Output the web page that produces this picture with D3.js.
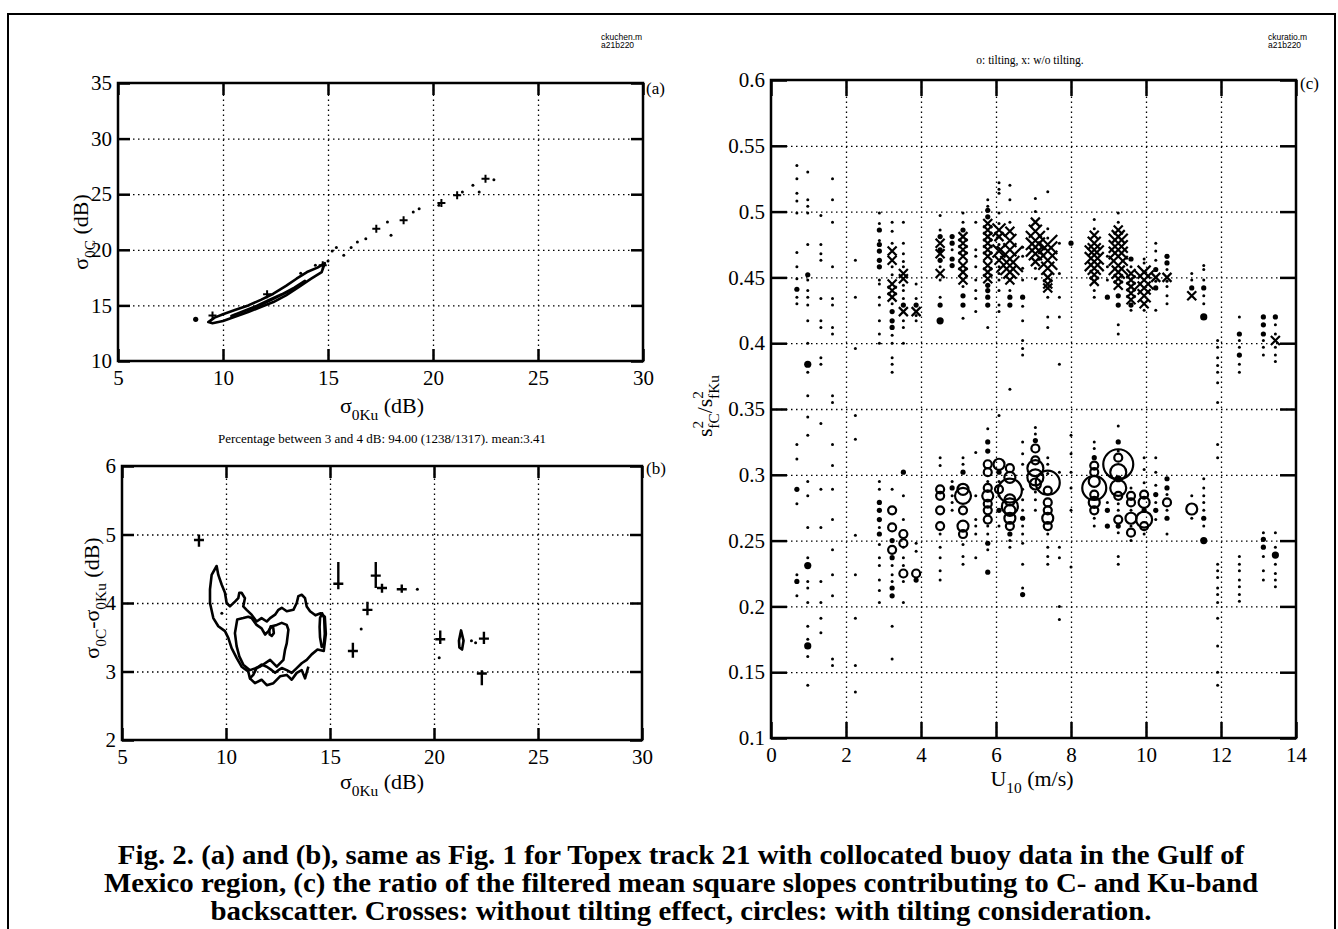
<!DOCTYPE html>
<html>
<head>
<meta charset="utf-8">
<script src="https://cdn.jsdelivr.net/npm/d3@7"></script>
<style>
  body { margin: 0; background: #fff; }
  svg { display: block; }
  .tick text { font-family: 'Liberation Serif', 'Times New Roman', serif; font-size: 21px; fill: #000; }
  .grid line { stroke: #000; stroke-width: 1.3; stroke-dasharray: 1.5, 3.5; }
  .grid path, .ax path { display: none; }
  .ax line { stroke: #000; stroke-width: 2.5; }
</style>
</head>
<body>
<svg id="chart" width="1338" height="929"></svg>
<script>
// TICKS
const xTicksAB = [5, 10, 15, 20, 25, 30];
const yTicksA = [10, 15, 20, 25, 30, 35];
const yTicksB = [2, 3, 4, 5, 6];
const xTicksC = [0, 2, 4, 6, 8, 10, 12, 14];
const yTicksC = [0.1, 0.15, 0.2, 0.25, 0.3, 0.35, 0.4, 0.45, 0.5, 0.55, 0.6];

// PANEL (a): sigma0C vs sigma0Ku, contour loops + scattered samples
const aOuter = [[9.3,13.5],[9.6,13.9],[10.0,14.2],[10.6,14.6],[11.2,15.0],[11.8,15.5],[12.4,16.05],[13.0,16.75],[13.5,17.4],[14.0,18.0],[14.5,18.4],[14.85,18.8],
  [14.7,18.0],[14.2,17.4],[13.6,16.65],[13.0,15.9],[12.4,15.3],[11.8,14.85],[11.2,14.4],[10.6,14.0],[10.0,13.6],[9.5,13.4]];
const aInner = [[10.4,14.05],[11.0,14.5],[11.6,14.95],[12.2,15.5],[12.8,16.0],[13.4,16.6],[13.9,17.2],[13.6,16.75],[13.0,16.15],[12.4,15.6],[11.8,15.05],[11.2,14.6],[10.6,14.2]];
const aDots = [[15.0,19.0],[15.2,19.9],[15.4,20.2],[15.75,19.5],[16.1,20.2],[16.4,20.7],[16.8,21.0],[17.83,22.5],[18.0,21.3],[19.06,23.4],
  [19.34,23.7],[20.28,24.0],[21.4,25.2],[21.9,25.8],[22.2,25.2],[22.9,26.3],[14.4,18.6],[13.7,17.9]];
const aPlus = [[17.3,21.9],[18.6,22.65],[20.4,24.2],[21.15,24.9],[22.5,26.4],[14.75,18.6],[9.5,14.1],[12.1,16.0]];
const aBlobs = [[8.7,13.75]];

// PANEL (b): sigma0C - sigma0Ku vs sigma0Ku
const bOuter = [[9.55,4.54],[9.31,4.41],[9.23,4.2],[9.23,4.0],[9.39,3.78],[9.63,3.66],[9.95,3.59],[10.11,3.49],[10.27,3.34],[10.51,3.2],[10.75,3.07],
  [11.07,3.0],[11.15,2.9],[11.31,2.95],[11.47,3.05],[11.71,3.1],[11.96,3.07],[12.2,3.02],[12.36,2.98],[12.52,3.02],[12.68,3.05],[12.92,3.02],
  [13.16,2.98],[13.4,3.05],[13.64,3.12],[13.88,3.17],[14.12,3.25],[14.4,3.32],[14.7,3.3],[14.8,3.55],[14.75,3.8],[14.55,3.85],[14.3,3.82],
  [14.04,3.88],[13.88,3.95],[13.8,4.07],[13.64,4.12],[13.48,4.1],[13.4,4.0],[13.24,3.9],[12.92,3.88],[12.68,3.93],[12.52,3.9],[12.36,3.83],
  [12.12,3.78],[11.96,3.73],[11.71,3.78],[11.47,3.73],[11.23,3.83],[10.99,3.9],[10.83,3.95],[10.91,4.07],[10.75,4.15],[10.64,4.15],
  [10.59,4.07],[10.43,4.02],[10.19,3.95],[10.03,4.0],[9.95,4.15],[9.79,4.27],[9.63,4.41]];
const bMiddle = [[10.54,3.76],[10.43,3.56],[10.51,3.37],[10.64,3.22],[10.83,3.1],[11.15,3.02],[11.63,3.07],[12.12,3.17],[12.44,3.07],[12.76,3.17],
  [12.84,3.32],[12.92,3.41],[13.0,3.61],[12.92,3.68],[12.68,3.71],[12.44,3.68],[12.2,3.66],[12.04,3.59],[11.88,3.54],[11.71,3.63],
  [11.47,3.68],[11.23,3.78],[11.07,3.8],[10.83,3.78]];
const bSmall = [[12.08,3.6],[12.15,3.66],[12.27,3.64],[12.3,3.56],[12.2,3.52],[12.1,3.54]];
const bRight = [[14.52,3.78],[14.62,3.85],[14.72,3.78],[14.75,3.55],[14.7,3.38],[14.6,3.36],[14.52,3.5],[14.5,3.65]];
const bDiamond = [[21.2,3.45],[21.3,3.6],[21.42,3.45],[21.35,3.32],[21.22,3.35]];
const bLow = [[11.15,2.9],[11.39,2.83],[11.71,2.88],[11.96,2.8],[12.28,2.83],[12.6,2.93],[12.92,2.95],[13.16,2.88],[13.4,2.98],[13.64,3.02],[13.8,2.9],[13.96,3.07]];
// x, y, lowest y, highest y of each short vertical run
const bPlus = [[8.7,4.92,4.82,5.0],[15.4,4.28,4.2,4.6],[17.2,4.4,4.22,4.6],[17.5,4.22,4.15,4.28],[18.45,4.2,4.15,4.27],[16.8,3.9,3.82,4.02],
  [16.1,3.3,3.2,3.42],[20.3,3.47,3.4,3.6],[22.4,3.48,3.4,3.58],[22.3,2.97,2.8,3.02]];
const bDots = [[19.2,4.2],[22.0,3.42],[16.5,3.62],[20.25,3.2],[21.8,3.45],[9.8,3.85]];

// PANEL (c): slope ratio vs U10. Upper cluster = w/o tilting, lower = with tilting.
// [U10, [ratios]] single samples
const upperDots = [
  [0.69, [.535,.525,.514,.508,.499,.469,.458,.449,.435,.430]],
  [0.98, [.530,.509,.504,.499,.475,.448,.440,.435,.429,.417,.400,.378,.360]],
  [1.33, [.497,.475,.468,.463,.434,.417,.412,.389,.384]],
  [1.64, [.525,.509,.492,.458,.434,.429,.412,.407,.360,.355]],
  [2.25, [.463,.435,.396,.345]],
  [2.89, [.499,.491,.478,.448,.445,.435,.429,.417,.407,.400]],
  [3.23, [.492,.485,.476,.458,.452,.430,.406,.400,.389,.384,.378]],
  [3.53, [.492,.476,.468,.462,.458,.444,.440,.434,.417,.412,.400]],
  [3.87, [.445,.434,.421,.417]],
  [4.51, [.497,.486,.458,.448,.435]],
  [4.83, [.471]],
  [5.12, [.499,.492,.443,.419]],
  [5.46, [.492,.471,.466,.458,.448,.440,.434,.424]],
  [5.78, [.509,.504,.412]],
  [6.08, [.522,.517,.514,.499,.491,.475,.458,.453,.448,.440,.429,.424]],
  [6.37, [.520,.509,.492,.440,.365]],
  [6.71, [.473,.466,.457,.448,.428,.417,.402,.396,.391]],
  [7.05, [.510,.500,.457,.449]],
  [7.38, [.515,.487,.480,.435,.420,.412]],
  [7.69, [.476,.453,.435,.420,.384]],
  [8.62, [.494,.487,.440,.435]],
  [8.97, [.466,.458,.448]],
  [9.26, [.499,.492,.414,.407]],
  [9.60, [.458,.425]],
  [9.95, [.464,.461,.425]],
  [10.26, [.476,.470,.463,.447,.425]],
  [10.56, [.456,.447,.443,.436,.430]],
  [11.22, [.453,.448]],
  [11.54, [.459,.456,.448,.436,.430]],
  [11.91, [.402,.397,.389,.383,.378,.370,.355]],
  [12.49, [.420,.402,.397,.384,.378]],
  [13.13, [.402,.397,.391]],
  [13.45, [.414,.407,.397,.391,.386]]
];
// [U10, ratio, count] heavier samples
const upperBlobs = [[0.69,.441,1],[0.98,.452,1],[0.98,.384,2],[2.89,.486,1],[2.89,.475,1],[2.89,.470,1],[2.89,.463,1],[2.89,.458,1],
  [3.23,.424,1],[3.23,.417,1],[3.23,.412,1],[3.53,.429,1],[3.87,.429,1],[4.51,.481,1],[4.51,.471,1],[4.51,.463,1],[4.51,.429,1],[4.51,.417,2],
  [4.83,.481,1],[4.83,.476,1],[4.83,.464,1],[4.83,.459,1],[5.12,.486,1],[5.12,.436,1],[5.12,.429,1],[5.78,.501,1],[5.78,.496,1],[5.78,.444,1],
  [5.78,.440,1],[5.78,.435,1],[5.78,.429,1],[6.37,.435,1],[6.37,.429,1],[6.71,.435,1],[8.0,.476,1],[8.97,.435,1],[9.26,.436,1],[9.26,.429,1],
  [9.60,.464,1],[9.60,.429,1],[10.26,.456,1],[10.26,.442,1],[10.56,.466,1],[10.56,.461,1],[11.22,.442,1],[11.54,.442,1],[11.54,.420,2],
  [12.49,.407,1],[12.49,.391,1],[13.13,.420,1],[13.13,.414,1],[13.13,.407,1],[13.45,.420,1]];
// [U10, ratio, count] crosses (x: w/o tilting)
const upperCrosses = [[3.23,.470,1],[3.23,.463,1],[3.23,.445,1],[3.23,.440,1],[3.23,.435,1],[3.53,.453,1],[3.53,.449,1],[3.53,.424,1],[3.87,.424,1],
  [4.51,.476,1],[4.51,.468,1],[4.51,.453,1],
  [5.12,.481,1],[5.12,.476,1],[5.12,.471,1],[5.12,.466,1],[5.12,.459,1],[5.12,.454,1],[5.12,.448,1],
  [5.78,.491,1],[5.78,.486,1],[5.78,.481,1],[5.78,.476,1],[5.78,.471,1],[5.78,.466,1],[5.78,.459,1],[5.78,.454,1],[5.78,.449,1],
  [6.08,.486,2],[6.08,.481,1],[6.08,.470,2],[6.08,.463,1],
  [6.37,.485,1],[6.37,.478,2],[6.37,.471,2],[6.37,.464,4],[6.37,.459,3],[6.37,.454,2],[6.37,.448,1],
  [7.05,.492,1],[7.05,.485,2],[7.05,.478,3],[7.05,.473,3],[7.05,.468,2],[7.05,.462,1],
  [7.38,.475,3],[7.38,.470,3],[7.38,.463,3],[7.38,.457,2],[7.38,.450,1],[7.38,.445,1],[7.38,.442,1],
  [8.62,.482,1],[8.62,.476,2],[8.62,.471,2],[8.62,.467,3],[8.62,.462,3],[8.62,.457,2],[8.62,.452,1],[8.62,.447,1],
  [9.26,.486,1],[9.26,.481,2],[9.26,.476,3],[9.26,.471,3],[9.26,.466,3],[9.26,.459,3],[9.26,.454,2],[9.26,.449,1],[9.26,.444,1],
  [9.60,.453,1],[9.60,.448,1],[9.60,.443,1],[9.60,.438,1],[9.60,.433,1],
  [9.95,.454,2],[9.95,.448,3],[9.95,.442,2],[9.95,.436,2],[9.95,.430,1],
  [10.26,.450,1],[10.56,.450,1],[11.22,.436,1],[13.45,.402,1]];

const lowerDots = [
  [0.69, [.323,.312,.278,.224,.208]],
  [0.98, [.344,.330,.295,.284,.260,.237,.219,.214,.203,.185,.175,.162,.140]],
  [1.33, [.339,.289,.260,.219,.203,.191,.180]],
  [1.64, [.323,.307,.289,.266,.243,.224,.208,.160,.155]],
  [2.25, [.327,.254,.224,.191,.155,.135]],
  [2.89, [.295,.289,.260,.247,.237,.231,.220,.212,.203]],
  [3.23, [.289,.231,.224,.219,.185,.160]],
  [3.53, [.284,.266,.245,.237,.231,.219,.203]],
  [3.87, [.248,.242]],
  [4.51, [.313,.307,.255,.245,.237,.227,.220]],
  [4.83, [.295,.284,.279,.273]],
  [5.12, [.313,.308,.247,.238,.232]],
  [5.46, [.317,.284,.266,.261,.255,.237]],
  [5.78, [.335,.295,.261,.255,.243]],
  [6.08, [.345,.295,.284,.261]],
  [6.37, [.250,.245]],
  [6.71, [.325,.316,.308,.289,.281,.273,.261,.255,.248,.232,.214]],
  [7.05, [.336,.331,.287,.281,.273]],
  [7.38, [.313,.308,.301,.255,.245,.238,.232]],
  [7.69, [.302,.245,.237,.200,.190]],
  [8.0, [.330,.316,.302,.290,.273,.230]],
  [8.62, [.325,.320,.267,.261]],
  [8.97, [.279]],
  [9.26, [.337,.318,.278,.273,.256,.238,.232]],
  [9.60, [.290,.273,.261,.250]],
  [9.95, [.313,.304,.294,.255]],
  [10.26, [.313,.302,.292,.279,.266]],
  [10.56, [.285,.273,.255]],
  [11.22, [.284,.267]],
  [11.54, [.297,.290,.284,.279,.273,.261]],
  [11.91, [.323,.313,.232,.227,.222,.214,.209,.203,.191,.170,.150,.140]],
  [12.49, [.238,.232,.227,.220,.215,.209,.204]],
  [13.13, [.256,.238,.227,.220]],
  [13.45, [.256,.245,.232,.225,.220,.215]]
];
const lowerBlobs = [[0.69,.289,1],[0.69,.219,1],[0.98,.231,2],[0.98,.170,2],[2.89,.279,1],[2.89,.273,1],[2.89,.266,1],[2.89,.255,1],
  [3.23,.250,1],[3.23,.237,1],[3.23,.214,1],[3.23,.208,1],[3.53,.302,1],[3.87,.220,1],[4.83,.290,1],[5.12,.302,1],[5.78,.325,1],[5.78,.318,1],
  [5.78,.248,1],[5.78,.226,1],[6.08,.302,1],[6.08,.273,1],[6.37,.255,1],[6.71,.267,1],[6.71,.209,1],[7.05,.326,1],[8.62,.313,1],[8.97,.273,1],
  [8.97,.261,1],[9.26,.325,1],[9.26,.297,2],[9.26,.261,1],[9.95,.273,1],[10.26,.285,1],[10.26,.273,1],[10.56,.297,1],[10.56,.290,1],
  [10.56,.267,1],[11.54,.267,1],[11.54,.250,2],[13.13,.251,1],[13.13,.245,1],[13.45,.239,2]];
// [U10, ratio, count] circles (o: tilting)
const lowerCircles = [[3.23,.273,1],[3.23,.260,1],[3.23,.243,1],[3.53,.255,1],[3.53,.248,1],[3.53,.225,1],[3.87,.225,1],
  [4.51,.289,1],[4.51,.284,1],[4.51,.273,1],[4.51,.261,1],
  [5.12,.289,2],[5.12,.284,3],[5.12,.273,1],[5.12,.261,2],[5.12,.255,1],
  [5.78,.308,1],[5.78,.302,1],[5.78,.290,1],[5.78,.284,2],[5.78,.278,1],[5.78,.273,1],[5.78,.266,1],
  [6.08,.308,2],[6.08,.289,1],
  [6.37,.305,1],[6.37,.298,2],[6.37,.288,4],[6.37,.281,2],[6.37,.276,3],[6.37,.273,2],[6.37,.267,2],[6.37,.261,1],
  [7.05,.320,1],[7.05,.311,1],[7.05,.305,3],[7.05,.298,3],[7.05,.293,2],
  [7.38,.294,4],[7.38,.288,1],[7.38,.279,1],[7.38,.273,1],[7.38,.267,2],[7.38,.261,1],
  [8.62,.307,1],[8.62,.302,1],[8.62,.295,2],[8.62,.290,4],[8.62,.285,1],[8.62,.279,2],[8.62,.273,1],
  [9.26,.313,1],[9.26,.308,5],[9.26,.302,3],[9.26,.290,3],[9.26,.284,1],[9.26,.266,1],
  [9.60,.284,1],[9.60,.279,1],[9.60,.267,2],[9.60,.256,1],
  [9.95,.285,1],[9.95,.279,2],[9.95,.266,3],[9.95,.261,1],
  [10.56,.279,1],[11.22,.274,2]];

// CAPTION LINES
const captionLines = [
  'Fig. 2. (a) and (b), same as Fig. 1 for Topex track 21 with collocated buoy data in the Gulf of',
  'Mexico region, (c) the ratio of the filtered mean square slopes contributing to C- and Ku-band',
  'backscatter. Crosses: without tilting effect, circles: with tilting consideration.'
];

// SETUP
const SERIF = "'Liberation Serif', 'Times New Roman', serif";
const svg = d3.select('#chart');
const g = svg.append('g');

const xa = d3.scaleLinear().domain([5, 30]).range([118, 643]);
const ya = d3.scaleLinear().domain([10, 35]).range([361, 83]);
const xb = d3.scaleLinear().domain([5, 30]).range([122, 642]);
const yb = d3.scaleLinear().domain([2, 6]).range([740, 466]);
const xc = d3.scaleLinear().domain([0, 14]).range([771, 1296]);
const yc = d3.scaleLinear().domain([0.1, 0.6]).range([738, 80]);

const crossSize = d3.scaleLinear().domain([1, 2, 3, 4]).range([4.5, 6.5, 9.5, 13]);
const circleSize = d3.scaleLinear().domain([1, 2, 3, 4, 5]).range([4, 5.5, 8, 12, 15]);
const blobSize = d3.scaleLinear().domain([1, 2]).range([2.6, 3.6]);

// OUTER FRAME
g.append('path').attr('d', 'M8,929V14H1335V929').attr('fill', 'none').attr('stroke', '#000').attr('stroke-width', 2);

// AXES
function drawAxes(x, y, xt, yt, tl, fy) {
  const [xl, xr] = x.range(), [y0, y1] = y.range();
  const w = xr - xl, h = y0 - y1;
  g.append('g').attr('class', 'grid').attr('transform', `translate(0,${y0})`)
    .call(d3.axisBottom(x).tickValues(xt.slice(1, -1)).tickSize(-h).tickFormat(''));
  g.append('g').attr('class', 'grid').attr('transform', `translate(${xl},0)`)
    .call(d3.axisLeft(y).tickValues(yt.slice(1, -1)).tickSize(-w).tickFormat(''));
  g.append('g').attr('class', 'ax').attr('transform', `translate(0,${y0})`)
    .call(d3.axisBottom(x).tickValues(xt).tickSizeInner(-tl).tickSizeOuter(0).tickPadding(9).tickFormat(d3.format('d')));
  g.append('g').attr('class', 'ax').attr('transform', `translate(0,${y1})`)
    .call(d3.axisTop(x).tickValues(xt).tickSizeInner(-tl).tickSizeOuter(0).tickFormat(''));
  g.append('g').attr('class', 'ax').attr('transform', `translate(${xl},0)`)
    .call(d3.axisLeft(y).tickValues(yt).tickSizeInner(-tl).tickSizeOuter(0).tickPadding(6).tickFormat(fy));
  g.append('g').attr('class', 'ax').attr('transform', `translate(${xr},0)`)
    .call(d3.axisRight(y).tickValues(yt).tickSizeInner(-tl).tickSizeOuter(0).tickFormat(''));
  g.append('rect').attr('x', xl).attr('y', y1).attr('width', w).attr('height', h)
    .attr('fill', 'none').attr('stroke', '#000').attr('stroke-width', 2.5);
}
drawAxes(xa, ya, xTicksAB, yTicksA, 12, d3.format('d'));
drawAxes(xb, yb, xTicksAB, yTicksB, 12, d3.format('d'));
drawAxes(xc, yc, xTicksC, yTicksC, 16, d => String(+d.toFixed(2)));

// TEXT WITH SUB/SUPERSCRIPTS
function label(x, y, parts, size, rot) {
  const t = g.append('text')
    .attr('transform', `translate(${x},${y})` + (rot ? ' rotate(-90)' : ''))
    .attr('text-anchor', 'middle').attr('font-family', SERIF).attr('font-size', size);
  let shift = 0;
  parts.forEach(([s, k, dx]) => {
    const want = k === 'sub' ? 0.33 * size : k === 'sup' ? -0.42 * size : 0;
    const ts = t.append('tspan').attr('dy', want - shift).attr('font-size', k ? size * 0.7 : size).text(s);
    if (dx) ts.attr('dx', dx);
    shift = want;
  });
}
label(382, 413, [['σ'], ['0Ku', 'sub'], [' (dB)']], 22);
label(382, 789, [['σ'], ['0Ku', 'sub'], [' (dB)']], 22);
label(1032, 786, [['U'], ['10', 'sub'], [' (m/s)']], 22);
label(88, 232, [['σ'], ['0C', 'sub'], [' (dB)']], 22, true);
label(99, 598, [['σ'], ['0C', 'sub'], ['-σ'], ['0Ku', 'sub'], [' (dB)']], 22, true);
label(712, 406, [['s'], ['2', 'sup'], ['fC', 'sub', -8], ['/s'], ['2', 'sup'], ['fKu', 'sub', -8]], 22, true);

// SMALL TEXTS
function txt(x, y, s, size, anchor, fam) {
  g.append('text').attr('x', x).attr('y', y).attr('font-family', fam || SERIF)
    .attr('font-size', size).attr('text-anchor', anchor || 'start').text(s);
}
txt(646, 94, '(a)', 17);
txt(646, 474, '(b)', 17);
txt(1300, 89, '(c)', 17);
txt(382, 443, 'Percentage between 3 and 4 dB: 94.00 (1238/1317). mean:3.41', 13, 'middle');
txt(1030, 64, 'o: tilting, x: w/o tilting.', 11.5, 'middle');
const SANS = "'Liberation Sans Narrow', 'Liberation Sans', sans-serif";
txt(601, 40, 'ckuchen.m', 8.5, 'start', SANS);
txt(601, 48, 'a21b220', 8.5, 'start', SANS);
txt(1268, 40, 'ckuratio.m', 8.5, 'start', SANS);
txt(1268, 48, 'a21b220', 8.5, 'start', SANS);

// CAPTION: one common horizontal squeeze so the first line spans ~1127px
const cap = g.append('g');
const capText = captionLines.map((s, i) => cap.append('text')
  .attr('x', 0).attr('y', 864 + i * 28).attr('font-family', SERIF)
  .attr('font-weight', 'bold').attr('font-size', 28).attr('text-anchor', 'middle').text(s));
const squeeze = 1127 / capText[0].node().getComputedTextLength();
capText.forEach(t => t.attr('transform', `translate(681,0) scale(${squeeze},1)`));

// MARK HELPERS
const line = (x, y, closed) => d3.line().x(d => x(d[0])).y(d => y(d[1])).curve(closed ? d3.curveLinearClosed : d3.curveLinear);
const plusD = (cx, cy, s) => `M${cx - s},${cy}H${cx + s}M${cx},${cy - s}V${cy + s}`;
const crossD = (cx, cy, s) => `M${cx - s},${cy - s}L${cx + s},${cy + s}M${cx - s},${cy + s}L${cx + s},${cy - s}`;

function contour(pts, x, y, closed) {
  g.append('path').attr('d', line(x, y, closed)(pts)).attr('fill', 'none')
    .attr('stroke', '#000').attr('stroke-width', 2.6).attr('stroke-linejoin', 'round');
}
function dots(pts, x, y, r) {
  g.append('g').selectAll('circle').data(pts).join('circle')
    .attr('cx', d => x(d[0])).attr('cy', d => y(d[1])).attr('r', d => d[2] ? blobSize(d[2]) : r).attr('fill', '#000');
}

// PANEL (a)
contour(aOuter, xa, ya, true);
contour(aInner, xa, ya, true);
dots(aDots, xa, ya, 1.5);
dots(aBlobs.map(d => [d[0], d[1], 1]), xa, ya);
g.append('g').selectAll('path').data(aPlus).join('path')
  .attr('d', d => plusD(xa(d[0]), ya(d[1]), 4)).attr('stroke', '#000').attr('stroke-width', 2);

// PANEL (b)
contour(bOuter, xb, yb, true);
contour(bMiddle, xb, yb, true);
contour(bSmall, xb, yb, true);
contour(bRight, xb, yb, true);
contour(bDiamond, xb, yb, true);
contour(bLow, xb, yb, false);
dots(bDots, xb, yb, 1.5);
g.append('g').selectAll('path').data(bPlus).join('path')
  .attr('d', d => `M${xb(d[0])},${yb(d[2])}V${yb(d[3])}M${xb(d[0]) - 5},${yb(d[1])}H${xb(d[0]) + 5}`)
  .attr('stroke', '#000').attr('stroke-width', 2.4);

// PANEL (c)
const flat = cols => cols.flatMap(([u, vs]) => vs.map(v => [u, v]));
dots(flat(upperDots), xc, yc, 1.5);
dots(flat(lowerDots), xc, yc, 1.5);
dots(upperBlobs, xc, yc);
dots(lowerBlobs, xc, yc);
g.append('g').selectAll('path').data(upperCrosses).join('path')
  .attr('d', d => crossD(xc(d[0]), yc(d[1]), crossSize(d[2])))
  .attr('stroke', '#000').attr('stroke-width', 2.2).attr('fill', 'none');
g.append('g').selectAll('circle').data(lowerCircles).join('circle')
  .attr('cx', d => xc(d[0])).attr('cy', d => yc(d[1])).attr('r', d => circleSize(d[2]))
  .attr('fill', 'none').attr('stroke', '#000').attr('stroke-width', 2.2);
</script>
</body>
</html>
